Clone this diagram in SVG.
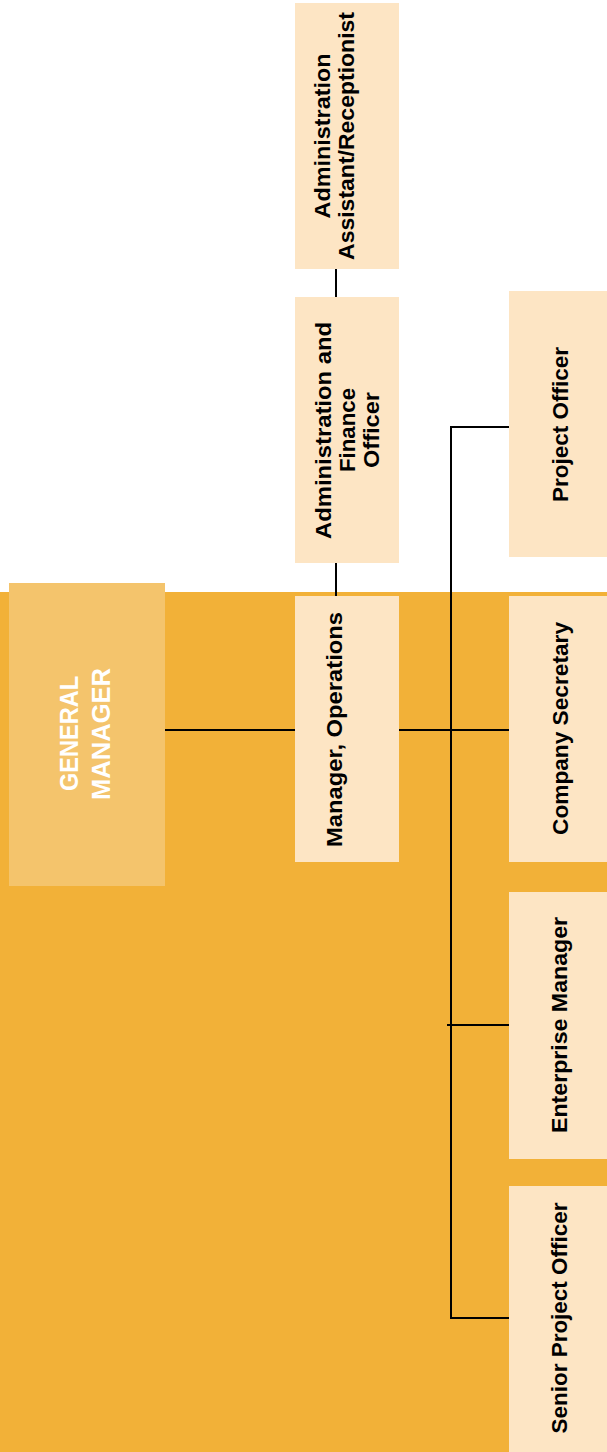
<svg xmlns="http://www.w3.org/2000/svg" width="607" height="1452" viewBox="0 0 607 1452">
<style>
.box{fill:#FDE5C4}
.gm{fill:#F4C46C}
.t{font-family:"Liberation Sans",Arial,sans-serif;font-weight:bold;font-size:22px;fill:#000;text-anchor:middle}
.tw{font-family:"Liberation Sans",Arial,sans-serif;font-weight:bold;font-size:26px;fill:#fff;text-anchor:middle}
.ln{stroke:#000;stroke-width:2;fill:none}
</style>
<rect x="0" y="0" width="607" height="1452" fill="#fff"/>
<rect id="bg" x="0" y="592" width="607" height="860" fill="#F2B138"/>
<g id="connectors">
<line class="ln" x1="336" y1="269" x2="336" y2="297"/>
<line class="ln" x1="336" y1="563" x2="336" y2="596"/>
<line class="ln" x1="165" y1="730" x2="295" y2="730"/>
<line class="ln" x1="399" y1="730" x2="509" y2="730"/>
<polyline class="ln" points="509,427 451,427 451,1318 509,1318"/>
<line class="ln" x1="447" y1="1025" x2="509" y2="1025"/>
</g>
<g id="general-manager">
<rect class="gm" x="9" y="583" width="156" height="303"/>
<text class="tw" transform="translate(78,733.5) rotate(-90)" textLength="115" lengthAdjust="spacingAndGlyphs">GENERAL</text>
<text class="tw" transform="translate(110,734) rotate(-90)" textLength="132" lengthAdjust="spacingAndGlyphs">MANAGER</text>
</g>
<g id="admin-assistant">
<rect class="box" x="295" y="3" width="104" height="266"/>
<text class="t" transform="translate(330,136) rotate(-90)" textLength="165" lengthAdjust="spacingAndGlyphs">Administration</text>
<text class="t" transform="translate(354,136) rotate(-90)" textLength="248" lengthAdjust="spacingAndGlyphs">Assistant/Receptionist</text>
</g>
<g id="admin-finance">
<rect class="box" x="295" y="297" width="104" height="266"/>
<text class="t" transform="translate(331,430.5) rotate(-90)" textLength="217" lengthAdjust="spacingAndGlyphs">Administration and</text>
<text class="t" transform="translate(355,430) rotate(-90)" textLength="84" lengthAdjust="spacingAndGlyphs">Finance</text>
<text class="t" transform="translate(379,430) rotate(-90)" textLength="76" lengthAdjust="spacingAndGlyphs">Officer</text>
</g>
<g id="manager-operations">
<rect class="box" x="295" y="596" width="104" height="266"/>
<text class="t" transform="translate(342,729.5) rotate(-90)" textLength="235" lengthAdjust="spacingAndGlyphs">Manager, Operations</text>
</g>
<g id="project-officer">
<rect class="box" x="509" y="291" width="104" height="266"/>
<text class="t" transform="translate(568,424.5) rotate(-90)" textLength="155" lengthAdjust="spacingAndGlyphs">Project Officer</text>
</g>
<g id="company-secretary">
<rect class="box" x="509" y="596" width="104" height="266"/>
<text class="t" transform="translate(568,728.5) rotate(-90)" textLength="213" lengthAdjust="spacingAndGlyphs">Company Secretary</text>
</g>
<g id="enterprise-manager">
<rect class="box" x="509" y="892" width="104" height="267"/>
<text class="t" transform="translate(567,1025) rotate(-90)" textLength="216" lengthAdjust="spacingAndGlyphs">Enterprise Manager</text>
</g>
<g id="senior-project-officer">
<rect class="box" x="509" y="1186" width="104" height="266"/>
<text class="t" transform="translate(567,1318) rotate(-90)" textLength="231" lengthAdjust="spacingAndGlyphs">Senior Project Officer</text>
</g>
</svg>
